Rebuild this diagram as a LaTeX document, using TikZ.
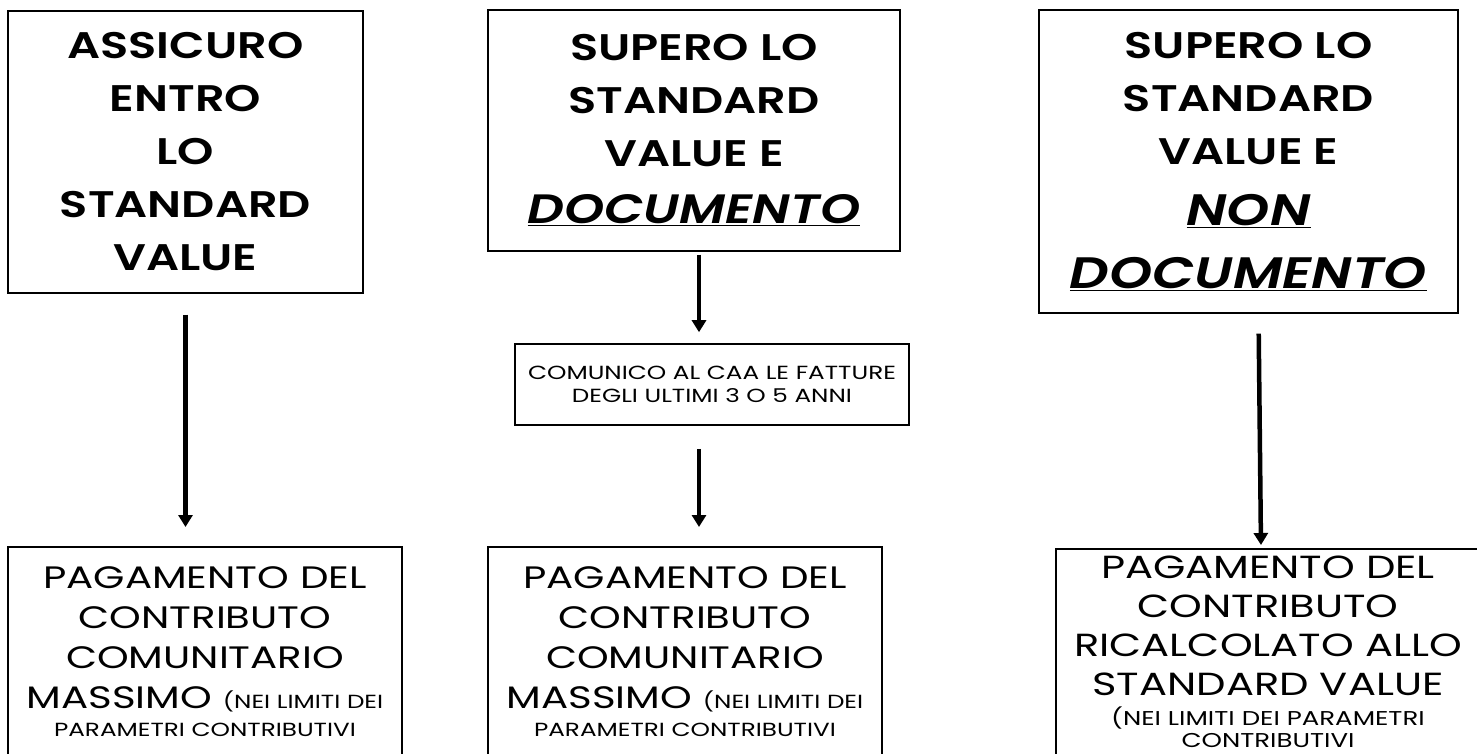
\documentclass[tikz,border=0pt]{standalone}
\usepackage{fontspec}
\setmainfont{Poppins}
\newfontfamily\headfont{Poppins}[BoldFont={Poppins SemiBold},BoldItalicFont={Poppins SemiBold Italic},FakeStretch=1.25]
\newfontfamily\handfont{Poppins}[FakeStretch=1.3]
\usetikzlibrary{arrows.meta,positioning}
\tikzset{headbox/.style={draw,line width=1.2pt,inner sep=0pt,align=center,
        font=\headfont\bfseries\fontsize{37}{53}\selectfont},
    stepbox/.style={draw,line width=1.6pt,inner sep=0pt,align=center,
        font=\handfont\fontsize{31}{40}\selectfont},
    notebox/.style={draw,line width=1.6pt,inner sep=0pt,align=center,
        font=\handfont\fontsize{19}{23}\selectfont},
    flow/.style={line width=4.5pt,-{Triangle[width=14pt,length=12pt]}}}
\newcommand{\smallnote}{\fontsize{19}{23}\selectfont}
\newcommand{\bignote}[2]{{\fontsize{#1}{53}\selectfont\itshape\underline{#2}}}

\begin{document}
\begin{tikzpicture}[x=1pt,y=-1pt]
  \path[fill=white,use as bounding box] (0,0) rectangle (1477,753);
  % top row
  \node[headbox,minimum width=355pt,minimum height=282pt] (assicuro) at (185.5,152)
     {ASSICURO\\ENTRO\\LO\\STANDARD\\VALUE};
  \node[headbox,minimum width=412pt,minimum height=241pt] (documento) at (694,130.5)
     {SUPERO LO\\STANDARD\\VALUE E\\[4pt]\bignote{41}{DOCUMENTO}};
  \node[headbox,minimum width=419pt,minimum height=303pt] (nondoc) at (1248.5,161.5)
     {SUPERO LO\\STANDARD\\VALUE E\\[8pt]\bignote{44}{NON}\\[10pt]\bignote{44}{DOCUMENTO}};
  % middle
  \node[notebox,minimum width=394pt,minimum height=81pt] (fatture) at (712,384.5)
     {COMUNICO AL CAA LE FATTURE\\DEGLI ULTIMI 3 O 5 ANNI};
  % bottom row
  \node[stepbox,minimum width=394pt,minimum height=210pt,anchor=north] (massimoA) at (205,546)
     {PAGAMENTO DEL\\CONTRIBUTO\\COMUNITARIO\\MASSIMO {\smallnote (NEI LIMITI DEI}\\[-12pt]{\smallnote PARAMETRI CONTRIBUTIVI}};
  \node[stepbox,minimum width=394pt,minimum height=210pt,anchor=north] (massimoB) at (685,546)
     {PAGAMENTO DEL\\CONTRIBUTO\\COMUNITARIO\\MASSIMO {\smallnote (NEI LIMITI DEI}\\[-12pt]{\smallnote PARAMETRI CONTRIBUTIVI}};
  \node[stepbox,minimum width=424pt,minimum height=211pt,anchor=north,text depth=5pt,
        font=\handfont\fontsize{32}{39}\selectfont] (ricalcolo) at (1268,548)
     {PAGAMENTO DEL\\CONTRIBUTO\\RICALCOLATO ALLO\\STANDARD VALUE\\[-9pt]{\fontsize{20}{23}\selectfont (NEI LIMITI DEI PARAMETRI}\\[-17pt]{\fontsize{20}{23}\selectfont CONTRIBUTIVI}};
  % arrows
  \coordinate (midB) at ([xshift=5pt]documento.south);
  \coordinate (topC) at ([xshift=10pt]nondoc.south);
  \coordinate (endC) at ([xshift=-7pt]ricalcolo.north);
  \draw[flow,shorten <=21pt,shorten >=19pt] (assicuro.south) -- (assicuro.south |- massimoA.north);
  \draw[flow,shorten <=3pt,shorten >=11pt] (midB) -- (midB |- fatture.north);
  \draw[flow,shorten <=23pt,shorten >=19pt] (midB |- fatture.south) -- (midB |- massimoB.north);
  \draw[flow,shorten <=20pt,shorten >=3pt] (topC) -- (endC);
\end{tikzpicture}
\end{document}
